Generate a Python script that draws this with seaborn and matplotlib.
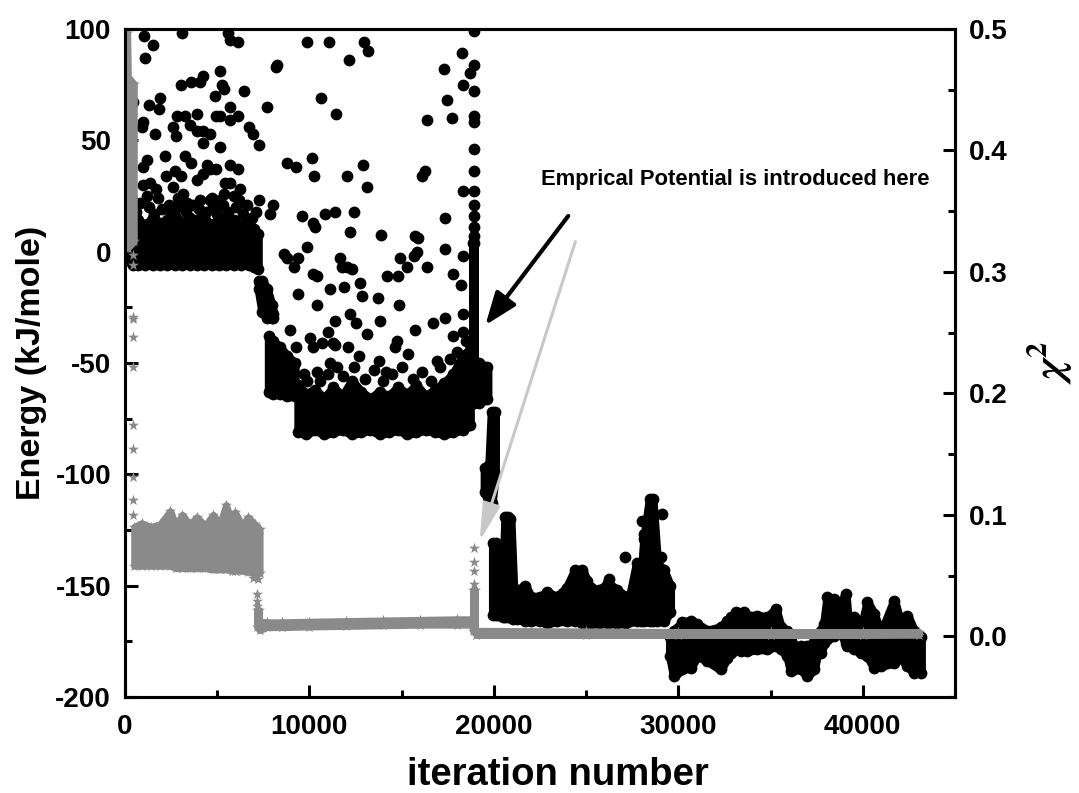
import matplotlib
matplotlib.use("Agg")
import matplotlib.pyplot as plt
import seaborn as sns
from matplotlib.ticker import MultipleLocator

# ---------------------------------------------------------------------------
# Energy (kJ/mole): isolated configurations
# ---------------------------------------------------------------------------
energy_iter = [
    # first stage, 0 - 7400
    1050, 1500, 1100, 3100, 5600, 5700, 6150,
    450, 1300, 1900, 1850, 3050, 3600, 4050, 4250, 5150, 5250, 5350, 6450, 4900, 5700, 6150, 5700,
    1000, 900, 1650, 2800, 3250, 2600, 2750, 3900, 3550, 3900, 4250, 4600, 4250, 5150, 4950, 6700,
    6950, 7250, 5150,
    1200, 1000, 2150, 3250, 3600, 2250, 2700, 3050, 3900, 4250, 4450, 4600, 4950, 5700, 6150, 5700,
    5450, 6250,
    1000, 1350, 1700, 1200, 2600, 3150, 3350, 4050, 4600, 5150, 5350, 5900, 7250,
    600, 800, 1300, 1600, 2000, 2400, 2500, 2900, 3300, 3700, 4000, 4400, 4800, 5000, 5300,
    5600, 6000, 6400, 6600, 6900, 7100, 1800, 2900, 4700, 6200,
    # second stage, 7400 - 18800
    7700, 8200, 8250, 9850, 11050, 12950, 13200, 12150, 18250, 17300, 18700, 18350, 10650, 11450,
    17450, 17750, 16350,
    8800, 9300, 10150, 10250, 12050, 12900, 13100, 16100, 16250, 18350,
    8050, 7850, 9600, 10200, 10850, 11400, 12400, 10300, 12200, 13900, 15900, 15750, 17350,
    9850, 11650, 12050, 8600, 8800, 9150, 9400, 10200, 11100, 11850, 9400, 10400, 11750, 12300,
    12750, 12850, 13700, 14850, 14200, 14800, 15300, 14900, 15850, 15650, 16400, 17350, 17800,
    18200, 18350, 17350, 18300, 17800, 18350, 16700, 15750, 14750, 15350, 13800, 13100, 12200,
    12500, 11400, 11000, 11300, 10700, 12100, 13750, 14650, 14150, 10400, 8950, 10050, 11400,
    10200, 9250, 10400, 11000, 9850, 11500,
    9700, 10600, 11100, 11800, 12400, 13000, 13500, 14000, 14500, 15000, 15600, 16100, 16600,
    17100, 17600, 18000, 18500, 12700, 16900,
    # run of accepted moves at ~18900
    18900, 18900, 18900, 18900, 18900, 18900, 18900, 18900, 18900, 18900, 18900, 18900,
    # third and fourth stages
    26230, 27135, 28050, 28130, 29090, 29035, 33100, 33550,
]
energy_kj = [
    97, 93, 87, 98, 98, 95, 94,
    67, 66, 69, 64, 75, 76, 76, 79, 81, 75, 73, 72, 70, 65, 61, 59,
    58, 56, 53, 61, 61, 56, 52, 62, 57, 54, 54, 53, 49, 61, 61, 56,
    53, 48, 47,
    41, 38, 43, 43, 40, 34, 36, 34, 32, 35, 39, 37, 37, 39, 37, 31,
    31, 28,
    30, 31, 28, 25, 29, 26, 22, 23, 23, 23, 26, 25, 23,
    18, 22, 20, 17, 19, 21, 17, 20, 18, 21, 19, 18, 20, 17, 21,
    18, 20, 17, 21, 15, 18, 24, 24, 24, 23,
    65, 83, 84, 94, 94, 94, 90, 86, 89, 82, 80, 75, 69, 62,
    68, 60, 59,
    40, 38, 42, 34, 34, 39, 29, 34, 36, 27,
    21, 17, 16, 13, 17, 18, 18, 11, 9, 7.5, 6, 7, 15,
    2, -3, -7, -1, -3, -7, -19, -10, -17, -16, -3, -11, -7, -8,
    -14, -20, -21, -24, -11, -11, -7, -3, 0, -2, -7, 1, -10,
    -15, -2, -30, -28, -38, -36, -32, -35, -40, -46, -31, -37, -28,
    -32, -31, -36, -41, -41, -43, -49, -43, -54, -24, -35, -39, -42,
    -43, -43, -54, -55, -58, -52,
    -55, -58, -50, -56, -52, -57, -53, -58, -55, -52, -57, -54, -58,
    -52, -48, -45, -40, -47, -49,
    99, 84, 72, 61, 58, 46, 36, 27, 21, 16, 11, 7,
    -147, -137, -121, -127, -118, -137, -162, -162,
]

# ---------------------------------------------------------------------------
# Energy: densely sampled stretches (iteration, lower edge, upper edge)
# ---------------------------------------------------------------------------
start_iter = [300, 500]
start_lo = [-4, -4]
start_hi = [30, 20]

plateau1_iter = [450, 700, 1100, 1500, 1900, 2300, 2700, 3100, 3500, 3900, 4300, 4700,
                 5100, 5500, 5900, 6300, 6700, 7000, 7200]
plateau1_lo = [-6, -6, -6, -6, -6, -6, -6, -6, -6, -6, -6, -6, -6, -6, -6, -6, -6, -7, -8]
plateau1_hi = [12, 14, 12, 15, 13, 14, 16, 13, 15, 14, 15, 12, 15, 13, 14, 12, 13, 10, 8]

drop1_iter = [7250, 7450, 7700, 7950, 8050]
drop1_lo = [-17, -27, -30, -30, -30]
drop1_hi = [-13, -13, -17, -24, -28]

step2_iter = [7800, 8000, 8400, 8800, 9200]
step2_lo = [-63, -64, -64, -65, -65]
step2_hi = [-38, -40, -43, -47, -50]

plateau2_iter = [9400, 9800, 10300, 10800, 11300, 11800, 12300, 12800, 13300, 13800, 14300,
                 14800, 15300, 15800, 16300, 16800, 17300, 17800, 18300, 18700]
plateau2_lo = [-81, -82, -80, -82, -81, -80, -82, -81, -80, -82, -81, -80, -82, -81, -80,
               -81, -82, -81, -80, -78]
plateau2_hi = [-60, -64, -62, -66, -61, -65, -58, -63, -66, -63, -65, -61, -64, -60, -65,
               -62, -59, -55, -47, -44]

column19k_iter = [18870, 18930]
column19k_lo = [-68, -68]
column19k_hi = [4, 4]

shoulder_iter = [19200, 19650]
shoulder_lo = [-68, -66]
shoulder_hi = [-50, -52]

drop2_iter = [19500, 19750, 19880, 20060]
drop2_lo = [-108, -113, -113, -100]
drop2_hi = [-97, -96, -72, -72]

plateau3_iter = [19950, 20100, 20250, 20500, 20620, 20750, 20900, 21050, 21250, 21700, 22000,
                 22500, 22900, 23400, 23950, 24400, 24800, 25050, 25250, 25700, 26200, 26700,
                 27150, 27400, 27750, 28000, 28150, 28450, 28600, 28850, 29200, 29550]
plateau3_lo = [-163, -163, -163, -164, -164, -164, -164, -165, -165, -166, -166, -166, -167,
               -166, -166, -166, -167, -167, -167, -167, -167, -167, -167, -166, -166, -166,
               -166, -166, -166, -166, -166, -162]
plateau3_hi = [-131, -131, -149, -150, -119, -119, -120, -151, -152, -150, -155, -155, -153,
               -155, -151, -143, -143, -148, -151, -152, -149, -152, -155, -154, -140, -146,
               -129, -111, -111, -140, -143, -150]

plateau4_iter = [29550, 29760, 30210, 30660, 31030, 31570, 32290, 32660, 32830, 33200, 33380,
                 33740, 34280, 34830, 35280, 35550, 35910, 36090, 36270, 36630, 37000, 37350,
                 37540, 37720, 37900, 38080, 38440, 38800, 39070, 39170, 39530, 39890, 40250,
                 40610, 40970, 41700, 42060, 42420, 42780, 43150]
plateau4_lo = [-181.6, -190.6, -187.6, -186.8, -181.6, -183.8, -187.6, -182.3, -180.1, -178.6,
               -179.3, -179.3, -178.6, -178.6, -177.1, -178.6, -181.6, -188.3, -187.6, -187.6,
               -190.6, -187.6, -180.1, -180.1, -175.6, -174.1, -172.6, -171.1, -175.6, -177.1,
               -178.6, -180.1, -181.6, -186.8, -186.1, -184.6, -182.3, -186.1, -189.1, -189.1]
plateau4_hi = [-173.2, -170.2, -166.5, -165.7, -167.2, -170.2, -168.7, -165.7, -164.2, -163.5,
               -162.7, -163.5, -163.5, -164.2, -160.5, -168.7, -170.2, -174.7, -177.0, -177.0,
               -177.0, -175.5, -174.7, -170.2, -167.2, -155.2, -156.0, -158.2, -153.7, -164.2,
               -164.2, -170.2, -157.4, -162.7, -171.7, -156.7, -167.2, -163.5, -170.2, -173.2]

# ---------------------------------------------------------------------------
# chi^2: isolated values
# ---------------------------------------------------------------------------
chi_iter = [450, 450, 450, 450, 450, 450, 450, 450, 450, 450, 450,
            6950, 7220, 7150, 7180, 7150,
            18900, 18900, 18900, 18900]
chi_val = [0.314, 0.306, 0.263, 0.261, 0.246, 0.222, 0.174, 0.154, 0.131, 0.112, 0.100,
           0.048, 0.047, 0.035, 0.029, 0.025,
           0.073, 0.061, 0.054, 0.043]

# chi^2: densely sampled stretches (iteration, lower edge, upper edge)
chi_start_iter = [20, 120, 160, 480]
chi_start_lo = [0.320, 0.320, 0.320, 0.325]
chi_start_hi = [0.497, 0.497, 0.460, 0.455]

chi_stage1_iter = [500, 900, 1400, 1900, 2450, 2770, 3100, 3500, 3900, 4350, 4780, 5150,
                   5480, 5800, 5970, 6350, 6680, 7050, 7300]
chi_stage1_lo = [0.058, 0.058, 0.058, 0.058, 0.058, 0.056, 0.056, 0.056, 0.056, 0.056,
                 0.055, 0.055, 0.055, 0.054, 0.054, 0.054, 0.053, 0.052, 0.052]
chi_stage1_hi = [0.090, 0.093, 0.090, 0.092, 0.103, 0.091, 0.100, 0.092, 0.098, 0.091,
                 0.100, 0.092, 0.108, 0.093, 0.102, 0.091, 0.098, 0.092, 0.088]

chi_drop_iter = [7150, 7250]
chi_drop_lo = [0.008, 0.008]
chi_drop_hi = [0.022, 0.022]

chi_stage2_iter = [7300, 7700, 8500, 10000, 12000, 14000, 16000, 18000, 18850]
chi_stage2_lo = [0.005, 0.0075, 0.0075, 0.008, 0.0085, 0.009, 0.0095, 0.0095, 0.0095]
chi_stage2_hi = [0.012, 0.0115, 0.0115, 0.012, 0.0125, 0.013, 0.0135, 0.014, 0.014]

chi_jump_iter = [18880, 18960]
chi_jump_lo = [0.004, 0.004]
chi_jump_hi = [0.038, 0.038]

chi_stage3_iter = [19050, 25000, 30000, 35000, 40000, 43050]
chi_stage3_lo = [0.001, 0.001, 0.001, 0.001, 0.001, 0.0012]
chi_stage3_hi = [0.0045, 0.004, 0.0035, 0.0035, 0.0035, 0.0035]

# ---------------------------------------------------------------------------
# Style
# ---------------------------------------------------------------------------
sns.set_theme(style="ticks", rc={
    "axes.edgecolor": "black",
    "axes.linewidth": 2.2,
    "xtick.color": "black",
    "ytick.color": "black",
    "text.color": "black",
    "axes.labelcolor": "black",
})
plt.rcParams["font.family"] = ["Liberation Sans", "DejaVu Sans"]
plt.rcParams["font.weight"] = "bold"
plt.rcParams["axes.labelweight"] = "bold"
plt.rcParams["axes.unicode_minus"] = False

DOT = "black"
STAR = "#8a8a8a"
ARROW_GREY = "#c8c8c8"

fig = plt.figure(figsize=(10.79, 7.93), dpi=100)
ax1 = fig.add_axes([0.1158, 0.1211, 0.7693, 0.8424])
ax2 = ax1.twinx()


def dense_run(ax, xs, lo, hi, color, width, marker, size):
    # a stretch of overlapping markers: filled region with a marker-sized rim,
    # plus the markers sitting on its upper and lower edges
    ax.fill_between(xs, lo, hi, color=color, edgecolor=color, linewidth=width,
                    joinstyle="round", capstyle="round", zorder=2)
    sns.scatterplot(x=list(xs) + list(xs), y=list(lo) + list(hi), ax=ax, color=color,
                    s=size, linewidth=0, marker=marker, legend=False, zorder=2)


# energy on the left axis
for xs, lo, hi in [
    (start_iter, start_lo, start_hi),
    (plateau1_iter, plateau1_lo, plateau1_hi),
    (drop1_iter, drop1_lo, drop1_hi),
    (step2_iter, step2_lo, step2_hi),
    (plateau2_iter, plateau2_lo, plateau2_hi),
    (column19k_iter, column19k_lo, column19k_hi),
    (shoulder_iter, shoulder_lo, shoulder_hi),
    (drop2_iter, drop2_lo, drop2_hi),
    (plateau3_iter, plateau3_lo, plateau3_hi),
    (plateau4_iter, plateau4_lo, plateau4_hi),
]:
    dense_run(ax1, xs, lo, hi, DOT, 6.5, "o", 72)

sns.scatterplot(x=energy_iter, y=energy_kj, ax=ax1, color=DOT, s=72, linewidth=0,
                marker="o", legend=False, zorder=3)

# chi^2 on the right axis
for xs, lo, hi in [
    (chi_start_iter, chi_start_lo, chi_start_hi),
    (chi_stage1_iter, chi_stage1_lo, chi_stage1_hi),
    (chi_drop_iter, chi_drop_lo, chi_drop_hi),
    (chi_stage2_iter, chi_stage2_lo, chi_stage2_hi),
    (chi_jump_iter, chi_jump_lo, chi_jump_hi),
    (chi_stage3_iter, chi_stage3_lo, chi_stage3_hi),
]:
    dense_run(ax2, xs, lo, hi, STAR, 5, "*", 70)

sns.scatterplot(x=chi_iter, y=chi_val, ax=ax2, color=STAR, s=70, linewidth=0,
                marker="*", legend=False, zorder=3)

# axes ranges and ticks
ax1.set_xlim(0, 45000)
ax1.set_ylim(-200, 100)
ax2.set_ylim(-0.05, 0.5)

ax1.xaxis.set_major_locator(MultipleLocator(10000))
ax1.xaxis.set_minor_locator(MultipleLocator(5000))
ax1.yaxis.set_major_locator(MultipleLocator(50))
ax1.yaxis.set_minor_locator(MultipleLocator(25))
ax2.yaxis.set_major_locator(MultipleLocator(0.1))
ax2.yaxis.set_minor_locator(MultipleLocator(0.05))

for ax in (ax1, ax2):
    for sp in ax.spines.values():
        sp.set_linewidth(2.2)
        sp.set_color("black")
    ax.tick_params(which="both", direction="in", width=2.2, labelsize=20)
    ax.tick_params(which="major", length=9)
    ax.tick_params(which="minor", length=5)

ax1.tick_params(axis="y", which="both", left=True, right=False, pad=10)
ax1.tick_params(axis="x", which="both", bottom=True, top=False, pad=12)
ax2.tick_params(axis="y", which="both", right=True, left=False, pad=10)

ax1.set_xlabel("iteration number", fontsize=27.5, fontweight="bold")
ax1.xaxis.set_label_coords(0.522, -0.0895)
ax1.set_ylabel("Energy (kJ/mole)", fontsize=24.5, fontweight="bold", labelpad=6)
ax2.set_ylabel(r"$\chi^2$", fontsize=31, fontweight="normal", labelpad=12,
               math_fontfamily="stix")

# annotation marking the introduction of the empirical potential
ax1.text(22580, 32.2, "Emprical Potential is introduced here", fontsize=15.8,
         fontweight="bold", ha="left", va="center")
ax2.annotate("", xy=(19540, -33), xycoords=ax1.transData,
             xytext=(24030, 16), textcoords=ax1.transData,
             arrowprops=dict(arrowstyle="-|>,head_length=1.0,head_width=0.38",
                             color="black", lw=3, mutation_scale=20,
                             shrinkA=0, shrinkB=0))
ax2.annotate("", xy=(19230, -130), xycoords=ax1.transData,
             xytext=(24420, 4.5), textcoords=ax1.transData,
             arrowprops=dict(arrowstyle="-|>,head_length=1.15,head_width=0.27",
                             color=ARROW_GREY, lw=2.2, mutation_scale=20,
                             shrinkA=0, shrinkB=0))

fig.savefig("out.png", dpi=100)
